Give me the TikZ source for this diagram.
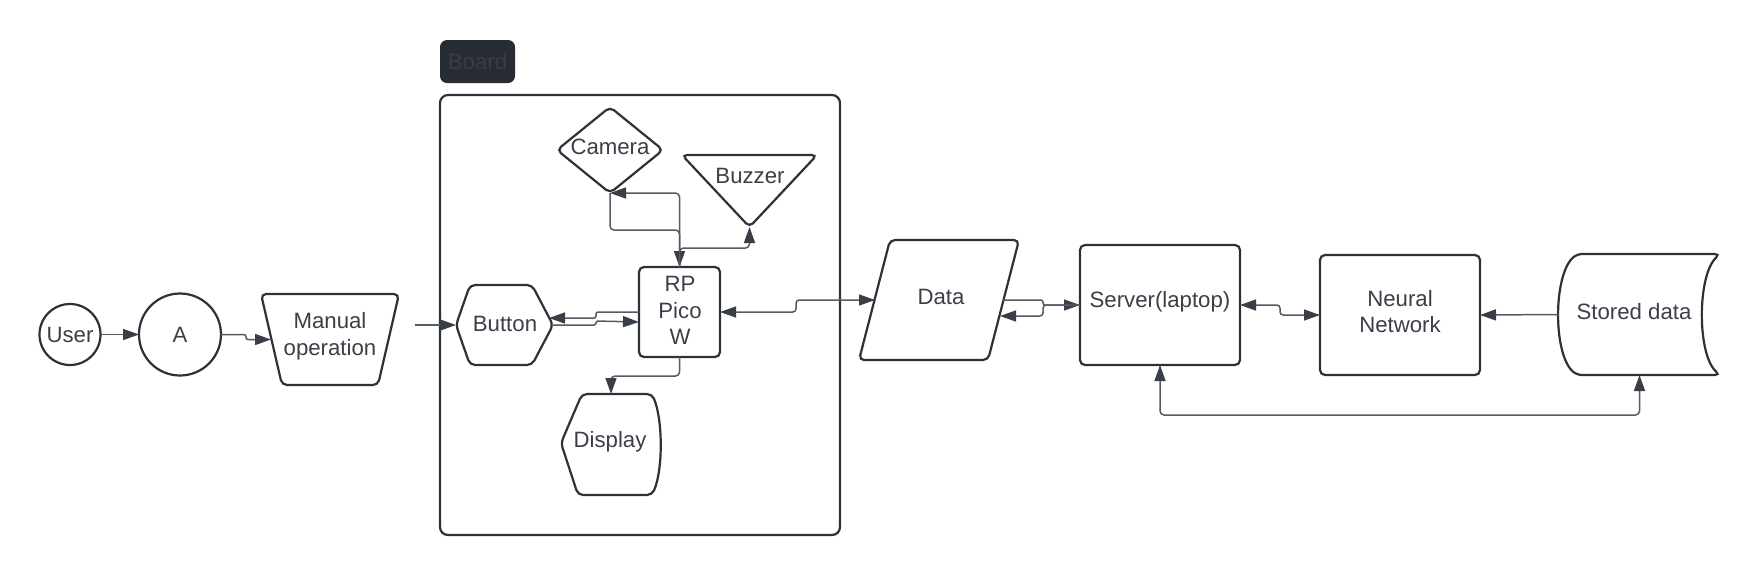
\documentclass[tikz,border=0pt]{standalone}
\usepackage{fontspec}
\setmainfont{Liberation Sans}
\usetikzlibrary{arrows.meta,calc}
\definecolor{ln}{HTML}{2D3138}
\definecolor{cn}{HTML}{555B63}
\definecolor{ah}{HTML}{3A3F47}
\definecolor{tx}{HTML}{3A3F48}
\definecolor{lab}{HTML}{272B32}
\definecolor{labtx}{HTML}{393D45}
\begin{document}
\begin{tikzpicture}[x=0.5pt,y=-0.5pt,
  txt/.style={text=tx,font=\fontsize{11.1}{13.3}\selectfont,align=center,inner sep=0pt},
  sz/.style 2 args={minimum width=#1*0.5pt,minimum height=#2*0.5pt},
  boxn/.style={txt,rectangle,inner sep=0pt,outer sep=0pt},
  shp/.style={draw=ln,line width=1.1pt,rounded corners=2.5pt,fill=white},
  circ/.style={txt,circle,draw=ln,line width=1.1pt,fill=white,outer sep=0pt},
  tip/.tip={Triangle[length=8pt,width=5.5pt,color=ah]},
  con/.style={draw=cn,line width=0.75pt,rounded corners=2pt,-tip},
  con2/.style={draw=cn,line width=0.75pt,rounded corners=2pt,tip-tip},
  jog/.style={rounded corners=1pt}]
\useasboundingbox (0,0) rectangle (1760,575);

% Board container and label
\node[boxn,sz={75}{43},fill=lab,rounded corners=3.5pt,text=labtx] (boardlab) at (477.5,61.5) {Board};
\node[boxn,sz={400}{440},draw=ln,line width=1.1pt,rounded corners=4pt] (board) at (640,315) {};

% User and A
\node[circ,minimum size=30.5pt] (user) at (70,334.5) {User};
\node[circ,minimum size=41pt] (a) at (180,334.5) {A};

% Manual operation (trapezoid)
\draw[shp] (261,294) -- (399,294) -- (378,385) -- (282,385) -- cycle;
\node[boxn,sz={138}{91}] (manual) at (330,339.5) {};
\node[txt] (manualtext) at (330,336) {Manual\\operation};

% Button (hexagon)
\draw[shp] (456,325) -- (470,285) -- (532,285) -- (553,325) -- (532,365) -- (470,365) -- cycle;
\node[boxn,sz={97}{80}] (button) at (504.5,325) {};
\node[txt] (buttontext) at (505,323.5) {Button};

% RP Pico W
\node[boxn,shp,sz={81}{90}] (rp) at (679.5,312) {};
\node[txt] (rptext) at (680,310.5) {RP\\Pico\\W};

% Camera (diamond)
\draw[shp] (557,150) -- (610,107) -- (663,150) -- (610,193) -- cycle;
\node[boxn,sz={106}{86}] (camera) at (610,150) {};
\node[txt] (cameratext) at (610,146.5) {Camera};

% Buzzer (inverted triangle)
\draw[shp] (682,155) -- (817,155) -- (749.5,227) -- cycle;
\node[boxn,sz={135}{72}] (buzzer) at (749.5,191) {};
\node[txt] (buzzertext) at (750,176) {Buzzer};

% Display
\draw[shp] (561,443) -- (582,394) -- (652,394) .. controls (663,420) and (663,470) .. (652,495) -- (578,495) -- cycle;
\node[boxn,sz={100}{101}] (display) at (611,444.5) {};
\node[txt] (displaytext) at (610,441.5) {Display};

% Data (parallelogram)
\draw[shp] (890,240) -- (1019,240) -- (988,360) -- (859,360) -- cycle;
\node[boxn,sz={160}{120}] (data) at (939,300) {};
\node[txt] (datatext) at (941,296.5) {Data};

% Server, Neural Network
\node[boxn,shp,sz={160}{120}] (server) at (1160,305) {};
\node[txt] (servertext) at (1160,302) {Server(laptop)};
\node[boxn,shp,sz={160}{120}] (neural) at (1400,315) {};
\node[txt] (neuraltext) at (1400,311.5) {Neural\\Network};

% Stored data
\draw[shp] (1650,254) -- (1720,254) .. controls (1697,275) and (1697,355) .. (1720,375) -- (1577,375) .. controls (1553,355) and (1553,275) .. (1577,254) -- cycle;
\node[boxn,sz={161}{121}] (stored) at (1639.5,314.5) {};
\node[txt] (storedtext) at (1634,311.5) {Stored data};

% Connectors
\coordinate (bin) at (415,325);
\draw[con] (user) -- (a);
\draw[con,jog] (a.east) -- ++(25,0) -- ++(0,5) -- ([xshift=5pt]manual.west);
\draw[con] (bin) -- (button.west);
\draw[con,jog] (rp.west) -- ++(-43,0) -- ++(0,6) -- ([xshift=-2pt,yshift=3.5pt]button.east);
\draw[con,jog] (button.east) -- ++(43,0) -- ++(0,-4) -- ([yshift=-5pt]rp.west);
\draw[con] (rp.north) |- (camera.south);
\draw[con] (camera.south) -- ++(0,37) -| (rp.north);
\draw[con] (rp.north) -- ++(0,-19) -| (buzzer.south);
\draw[con] (rp.south) -- ++(0,19) -| (display.north);
\draw[con2,rounded corners=1.6pt] (rp.east) -- ++(76,0) -- ++(0,-12) -- ([xshift=8pt]data.west);
\draw[con,jog] ([xshift=-8pt]data.east) -- ++(40,0) -- ++(0,5) -- (server.west);
\draw[con,rounded corners=1.6pt] (server.west) -- ++(-37,0) -- ++(0,11) -- ([xshift=-9.5pt,yshift=-8pt]data.east);
\draw[con2,rounded corners=1.6pt] (server.east) -- ++(40,0) -- ++(0,10) -- (neural.west);
\draw[con] (stored.west) -- (neural.east);
\draw[con2] (server.south) -- ++(0,50) -| (stored.south);
\end{tikzpicture}
\end{document}
